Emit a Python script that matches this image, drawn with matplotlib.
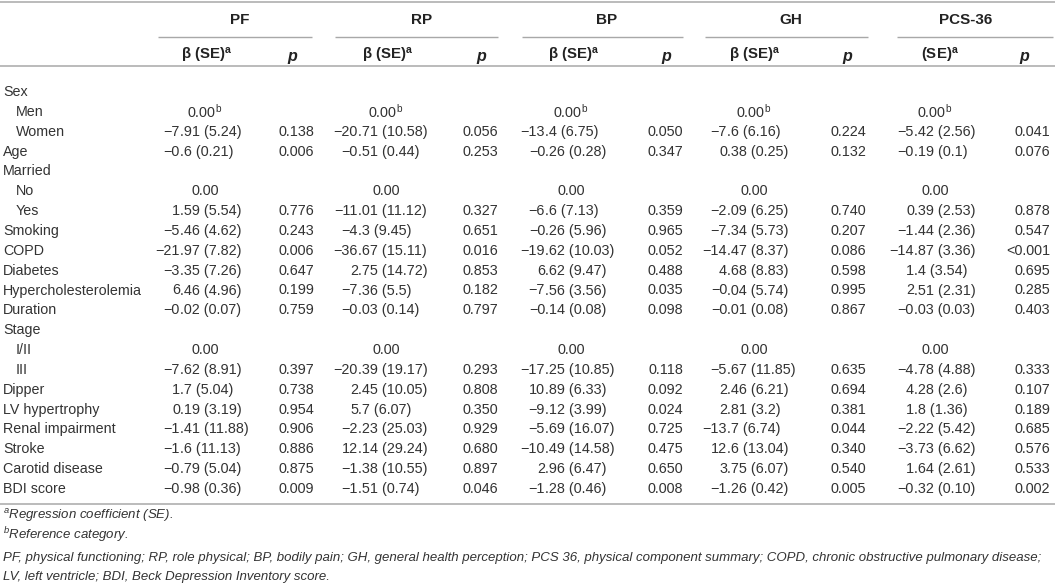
import matplotlib
matplotlib.use("Agg")
import matplotlib.pyplot as plt

plt.rcParams['font.family'] = ['Liberation Sans', 'DejaVu Sans']
plt.rcParams['mathtext.fontset'] = 'custom'
plt.rcParams['mathtext.rm'] = 'Liberation Sans'
plt.rcParams['mathtext.it'] = 'Liberation Sans:italic'
plt.rcParams['mathtext.bf'] = 'Liberation Sans:bold'

# table content
groups = ["PF", "RP", "BP", "GH", "PCS-36"]
beta_heads = ["β (SE)", "β (SE)", "β (SE)", "β (SE)", "(SE)"]

row_labels = ["Sex", "Men", "Women", "Age", "Married", "No", "Yes", "Smoking",
              "COPD", "Diabetes", "Hypercholesterolemia", "Duration", "Stage",
              "I/II", "III", "Dipper", "LV hypertrophy", "Renal impairment",
              "Stroke", "Carotid disease", "BDI score"]
indented = ["Men", "Women", "No", "Yes", "I/II", "III"]

pf_beta = ["", "0.00b", "−7.91 (5.24)", "−0.6 (0.21)", "", "0.00", "1.59 (5.54)",
           "−5.46 (4.62)", "−21.97 (7.82)", "−3.35 (7.26)", "6.46 (4.96)",
           "−0.02 (0.07)", "", "0.00", "−7.62 (8.91)", "1.7 (5.04)", "0.19 (3.19)",
           "−1.41 (11.88)", "−1.6 (11.13)", "−0.79 (5.04)", "−0.98 (0.36)"]
pf_p = ["", "", "0.138", "0.006", "", "", "0.776", "0.243", "0.006", "0.647",
        "0.199", "0.759", "", "", "0.397", "0.738", "0.954", "0.906", "0.886",
        "0.875", "0.009"]

rp_beta = ["", "0.00b", "−20.71 (10.58)", "−0.51 (0.44)", "", "0.00",
           "−11.01 (11.12)", "−4.3 (9.45)", "−36.67 (15.11)", "2.75 (14.72)",
           "−7.36 (5.5)", "−0.03 (0.14)", "", "0.00", "−20.39 (19.17)",
           "2.45 (10.05)", "5.7 (6.07)", "−2.23 (25.03)", "12.14 (29.24)",
           "−1.38 (10.55)", "−1.51 (0.74)"]
rp_p = ["", "", "0.056", "0.253", "", "", "0.327", "0.651", "0.016", "0.853",
        "0.182", "0.797", "", "", "0.293", "0.808", "0.350", "0.929", "0.680",
        "0.897", "0.046"]

bp_beta = ["", "0.00b", "−13.4 (6.75)", "−0.26 (0.28)", "", "0.00", "−6.6 (7.13)",
           "−0.26 (5.96)", "−19.62 (10.03)", "6.62 (9.47)", "−7.56 (3.56)",
           "−0.14 (0.08)", "", "0.00", "−17.25 (10.85)", "10.89 (6.33)",
           "−9.12 (3.99)", "−5.69 (16.07)", "−10.49 (14.58)", "2.96 (6.47)",
           "−1.28 (0.46)"]
bp_p = ["", "", "0.050", "0.347", "", "", "0.359", "0.965", "0.052", "0.488",
        "0.035", "0.098", "", "", "0.118", "0.092", "0.024", "0.725", "0.475",
        "0.650", "0.008"]

gh_beta = ["", "0.00b", "−7.6 (6.16)", "0.38 (0.25)", "", "0.00", "−2.09 (6.25)",
           "−7.34 (5.73)", "−14.47 (8.37)", "4.68 (8.83)", "−0.04 (5.74)",
           "−0.01 (0.08)", "", "0.00", "−5.67 (11.85)", "2.46 (6.21)",
           "2.81 (3.2)", "−13.7 (6.74)", "12.6 (13.04)", "3.75 (6.07)",
           "−1.26 (0.42)"]
gh_p = ["", "", "0.224", "0.132", "", "", "0.740", "0.207", "0.086", "0.598",
        "0.995", "0.867", "", "", "0.635", "0.694", "0.381", "0.044", "0.340",
        "0.540", "0.005"]

pcs_beta = ["", "0.00b", "−5.42 (2.56)", "−0.19 (0.1)", "", "0.00", "0.39 (2.53)",
            "−1.44 (2.36)", "−14.87 (3.36)", "1.4 (3.54)", "2.51 (2.31)",
            "−0.03 (0.03)", "", "0.00", "−4.78 (4.88)", "4.28 (2.6)",
            "1.8 (1.36)", "−2.22 (5.42)", "−3.73 (6.62)", "1.64 (2.61)",
            "−0.32 (0.10)"]
pcs_p = ["", "", "0.041", "0.076", "", "", "0.878", "0.547", "<0.001", "0.695",
         "0.285", "0.403", "", "", "0.333", "0.107", "0.189", "0.685", "0.576",
         "0.533", "0.002"]

betas = [pf_beta, rp_beta, bp_beta, gh_beta, pcs_beta]
pvals = [pf_p, rp_p, bp_p, gh_p, pcs_p]

footnotes = ["${}^{a}$Regression coefficient (SE).",
             "${}^{b}$Reference category.",
             "PF, physical functioning; RP, role physical; BP, bodily pain; GH, general health perception; "
             "PCS 36, physical component summary; COPD, chronic obstructive pulmonary disease;",
             "LV, left ventricle; BDI, Beck Depression Inventory score."]

# layout (pixels)
W, H = 1055, 585
group_x = [240, 422, 607, 791, 966]
group_line = [(158, 312), (335, 498), (522, 683), (705, 868), (897, 1053)]
head_beta_x = [207, 388, 574, 755, 940]
head_p_x = [292, 481, 666, 847, 1024]
dec_x = [180, 358, 545, 727, 914]      # decimal point of the estimate
zero_x = [205, 386, 571, 754, 935]     # reference-category "0.00"
p_right = [314, 498, 683, 866, 1050]
row_y0, row_dy = 92, 19.85

txt = '#333333'
line_c = '#a8a8a8'
fs = 10.4

fig = plt.figure(figsize=(W / 100, H / 100), dpi=100)
ax = fig.add_axes([0, 0, 1, 1])
ax.set_xlim(0, W)
ax.set_ylim(H, 0)
ax.axis('off')

# rules
ax.hlines([2, 66, 504], 0, W, color=line_c, lw=1.1)
for x0, x1 in group_line:
    ax.hlines(37, x0, x1, color=line_c, lw=1.0)

# header
for i, g in enumerate(groups):
    ax.text(group_x[i], 20, g, ha='center', va='center', fontsize=11,
            fontweight='bold', color='#222222')
    ax.text(head_beta_x[i], 55, beta_heads[i] + r"$^{\mathbf{a}}$", ha='center',
            va='center', fontsize=10.8, fontweight='bold', color='#222222')
    ax.text(head_p_x[i], 56, "p", ha='center', va='center', fontsize=11.5,
            fontweight='bold', style='italic', color='#222222')

# body
for r, lab in enumerate(row_labels):
    y = row_y0 + r * row_dy
    x = 16 if lab in indented else 3
    ax.text(x, y, lab, ha='left', va='center', fontsize=10.3, color=txt)
    for i in range(5):
        b = betas[i][r]
        if b.startswith("0.00") and "(" not in b:
            if b.endswith("b"):
                b = b[:-1] + r"$^{\mathrm{b}}$"
            ax.text(zero_x[i], y, b, ha='center', va='center', fontsize=fs,
                    color=txt)
        elif b:
            head, tail = b.split(".", 1)
            ax.text(dec_x[i], y, head, ha='right', va='center', fontsize=fs,
                    color=txt)
            ax.text(dec_x[i], y, "." + tail, ha='left', va='center', fontsize=fs,
                    color=txt)
        if pvals[i][r]:
            ax.text(p_right[i], y, pvals[i][r], ha='right', va='center',
                    fontsize=fs, color=txt)

# footnotes
for fn, fy in zip(footnotes, [516, 535, 558, 577]):
    ax.text(3, fy, fn, ha='left', va='center', fontsize=9.5, style='italic',
            color=txt)

fig.savefig("out.png", dpi=100)
